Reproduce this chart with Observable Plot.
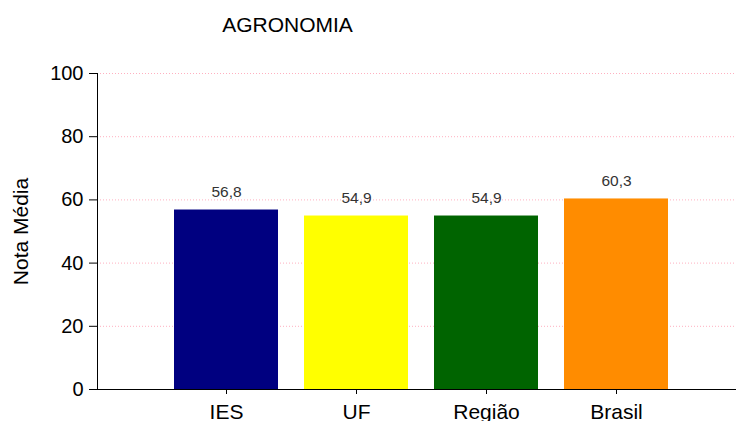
<!DOCTYPE html>
<html>
<head>
<meta charset="utf-8">
<script src="https://cdn.jsdelivr.net/npm/d3@7"></script>
<script src="https://cdn.jsdelivr.net/npm/@observablehq/plot@0.6"></script>
<style>
  body { margin: 0; background: #fff; }
  svg { font-family: "Liberation Sans", Arial, sans-serif; }
</style>
</head>
<body>
<div id="chart"></div>
<script>
const title = "AGRONOMIA";
const yLabel = "Nota Média";
const categories = ["IES", "UF", "Região", "Brasil"];
const values = [56.8, 54.9, 54.9, 60.3];
const labels = ["56,8", "54,9", "54,9", "60,3"];
const colors = ["#000080", "#ffff00", "#006400", "#ff8c00"];
const yTicks = [0, 20, 40, 60, 80, 100];

const data = categories.map((c, i) => ({cat: c, value: values[i], label: labels[i]}));

const chart = Plot.plot({
  width: 736,
  height: 421,
  marginTop: 73,
  marginBottom: 32,
  marginLeft: 97,
  marginRight: 0,
  style: {fontFamily: "Liberation Sans, Arial, sans-serif", background: "#fff"},
  x: {domain: categories, range: [174, 668], paddingInner: 0.2, paddingOuter: 0, label: null},
  y: {domain: [0, 100], label: null},
  color: {domain: categories, range: colors},
  marks: [
    Plot.ruleY(yTicks.slice(1), {stroke: "#ffb0c0", strokeDasharray: "1,2", strokeWidth: 1}),
    Plot.barY(data, {x: "cat", y: "value", fill: "cat"}),
    Plot.text(data, {x: "cat", y: "value", text: "label", dy: -18, fontSize: 15.5, fill: "#333"}),
    Plot.ruleY([0], {stroke: "#000", strokeWidth: 1}),
    Plot.axisY({ticks: yTicks, tickSize: 8, tickPadding: 6, fontSize: 20, label: null, tickFormat: d => d, stroke: "#000", color: "#000"}),
    Plot.axisX({tickSize: 5, tickPadding: 10, fontSize: 21, label: null, color: "#000"}),
    Plot.frame({anchor: "left", stroke: "#000"}),
    Plot.text([title], {frameAnchor: "top-left", lineAnchor: "middle", dx: 190, dy: -48, textAnchor: "middle", fontSize: 21, fill: "#000"}),
    Plot.text([yLabel], {frameAnchor: "left", lineAnchor: "middle", dx: -76.5, rotate: -90, textAnchor: "middle", fontSize: 21, fill: "#000"})
  ]
});
document.getElementById("chart").appendChild(chart);
</script>
</body>
</html>
